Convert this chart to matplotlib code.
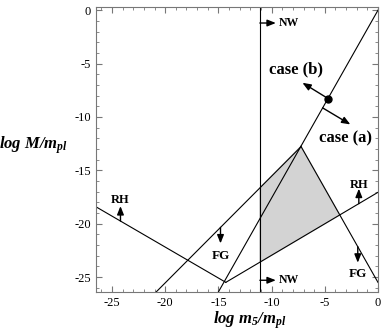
import numpy as np
import matplotlib.pyplot as plt

plt.rcParams['font.family'] = 'Liberation Serif'
plt.rcParams['mathtext.fontset'] = 'custom'
plt.rcParams['mathtext.rm'] = 'Liberation Serif:bold:italic'
plt.rcParams['mathtext.it'] = 'Liberation Serif:bold:italic'
plt.rcParams['axes.unicode_minus'] = False

# limits of the plane
x_lim = [-26.5, 0.0]
y_lim = [-26.4, 0.3]

# boundary lines  y = slope * x + icpt
case_line = [1.76, 0.0]       # case (a) / case (b) boundary
fg_left = [1.0, -5.55]
fg_right = [-1.76, -25.5]
rh_left = [-0.58, -33.79]
rh_right = [0.59, -17.06]
nw_x = -11.1

# dot on the case line
dot_x = -4.7

# labels: (text, x, y)
rh_labels = [('RH', -24.2, -17.8), ('RH', -1.8, -16.4)]
fg_labels = [('FG', -14.8, -23.0), ('FG', -1.9, -24.7)]
nw_labels = [('NW', -1.2), ('NW', -25.3)]


def y_of(line, x):
    return line[0] * x + line[1]


def meet(a, b):
    x = (b[1] - a[1]) / (a[0] - b[0])
    return x, y_of(a, x)


fig = plt.figure(figsize=(3.82, 3.32), dpi=100)
ax = fig.add_axes([0.2513, 0.1205, 0.7382, 0.8584])
ax.set_xlim(x_lim)
ax.set_ylim(y_lim)

lw = 0.8
peak = meet(case_line, fg_right)
vertex = meet(rh_left, rh_right)

# main boundary line through the origin
x0 = (y_lim[0] - case_line[1]) / case_line[0]
xs = np.array([x0, 0])
ax.plot(xs, y_of(case_line, xs), color='k', lw=lw)

# FG lines
x1 = (y_lim[0] - fg_left[1]) / fg_left[0]
xs = np.array([x1, peak[0]])
ax.plot(xs, y_of(fg_left, xs), color='k', lw=lw)
xs = np.array([peak[0], 0])
ax.plot(xs, y_of(fg_right, xs), color='k', lw=lw)

# RH lines
xs = np.array([x_lim[0], vertex[0]])
ax.plot(xs, y_of(rh_left, xs), color='k', lw=lw)
xs = np.array([vertex[0], 0])
ax.plot(xs, y_of(rh_right, xs), color='k', lw=lw)

# NW line
ax.axvline(nw_x, color='k', lw=lw)

# allowed region
p1 = (nw_x, y_of(fg_left, nw_x))
p2 = peak
p3 = meet(fg_right, rh_right)
p4 = (nw_x, y_of(rh_right, nw_x))
poly = np.array([p1, p2, p3, p4])
ax.fill(poly[:, 0], poly[:, 1], color='#d3d3d3', zorder=0)

arr = dict(arrowstyle='-|>,head_length=0.5,head_width=0.2', color='k', lw=1.0,
           shrinkA=0, shrinkB=0)

# NW arrows
for txt, y in nw_labels:
    ax.annotate('', xy=(nw_x + 1.5, y), xytext=(nw_x, y), arrowprops=arr)
    ax.text(nw_x + 1.75, y, txt, fontsize=8.5, fontweight='bold', va='center', ha='left')

# RH arrows (pointing up)
for (txt, x, y), ln in zip(rh_labels, [rh_left, rh_right]):
    yl = y_of(ln, x)
    ax.annotate('', xy=(x, yl + 1.4), xytext=(x, yl), arrowprops=arr)
    ax.text(x, y, txt, fontsize=9, fontweight='bold', ha='center', va='center')

# FG arrows (pointing down)
for (txt, x, y), ln in zip(fg_labels, [fg_left, fg_right]):
    yl = y_of(ln, x)
    ax.annotate('', xy=(x, yl - 1.5), xytext=(x, yl), arrowprops=arr)
    ax.text(x, y, txt, fontsize=9.5, fontweight='bold', ha='center', va='center')

# dot with case arrows
dot_y = y_of(case_line, dot_x)
ax.plot(dot_x, dot_y, 'o', color='k', ms=5)
ax.annotate('', xy=(-7.1, -6.8), xytext=(dot_x, dot_y), arrowprops=arr)
ax.annotate('', xy=(-2.6, -10.7), xytext=(-5.2, y_of(case_line, -5.2)), arrowprops=arr)
ax.text(-7.7, -5.5, 'case (b)', fontsize=12, fontweight='bold', ha='center', va='center')
ax.text(-3.1, -12.0, 'case (a)', fontsize=12, fontweight='bold', ha='center', va='center')

# ticks
ax.set_xticks([-25, -20, -15, -10, -5, 0])
ax.set_yticks([0, -5, -10, -15, -20, -25])
ax.set_xticks(np.arange(-26, 1, 1), minor=True)
ax.set_yticks(np.arange(-26, 1, 1), minor=True)
ax.tick_params(which='both', direction='in', top=True, right=True, labelsize=9,
               color='#777777')
ax.tick_params(which='major', length=4)
ax.tick_params(which='minor', length=2)
for s in ax.spines.values():
    s.set_color('#777777')
    s.set_linewidth(0.8)

ax.set_xlabel(r'$log\ m_5/m_{pl}$', fontsize=12)
ax.xaxis.set_label_coords(0.546, -0.062)
ax.set_ylabel(r'$log\ M/m_{pl}$', fontsize=12, rotation=0, va='center')
ax.yaxis.set_label_coords(-0.22, 0.516)

fig.savefig('out.png', dpi=100)
